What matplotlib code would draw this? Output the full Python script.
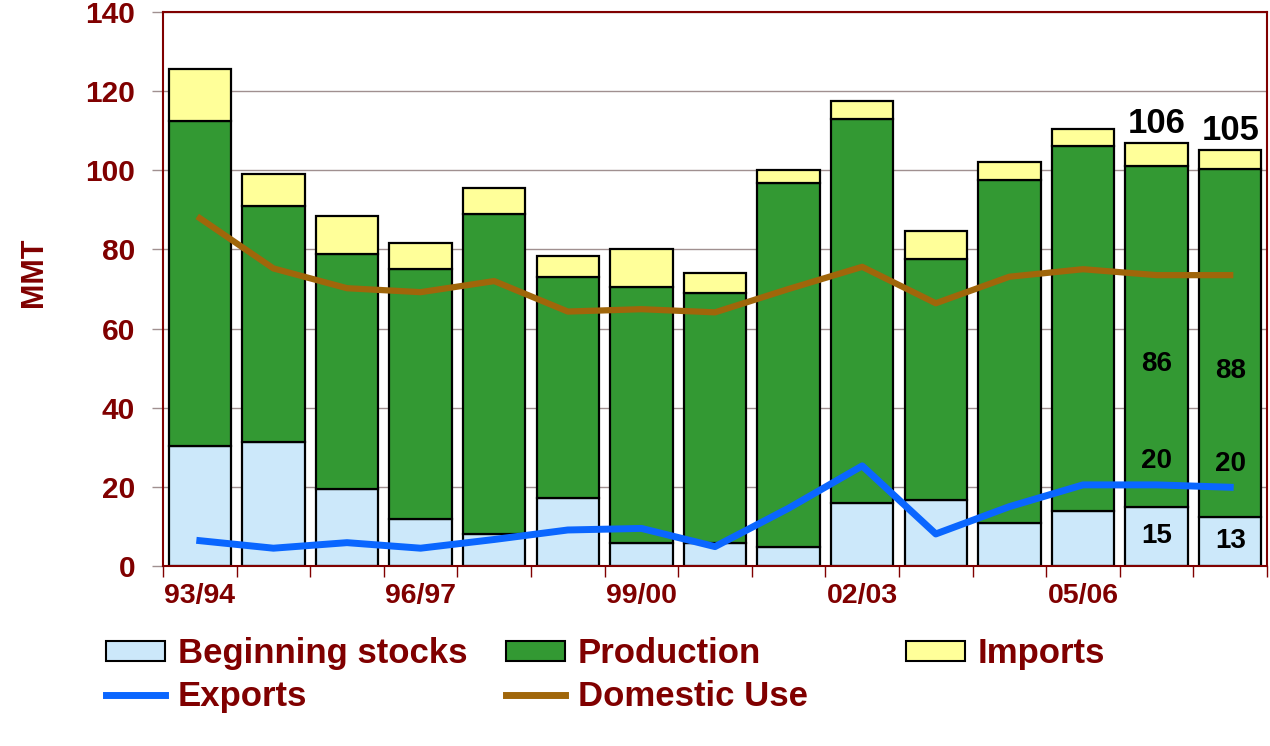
import numpy as np
import matplotlib.pyplot as plt
from matplotlib.patches import Patch
from matplotlib.lines import Line2D

plt.rcParams['font.family'] = ['Liberation Sans', 'DejaVu Sans']
plt.rcParams['font.weight'] = 'bold'

seasons = ['93/94', '94/95', '95/96', '96/97', '97/98', '98/99', '99/00', '00/01',
           '01/02', '02/03', '03/04', '04/05', '05/06', '06/07', '07/08']

# MMT
stocks = np.array([30.4, 31.4, 19.4, 11.9, 8.0, 17.1, 5.7, 5.7, 4.9, 16.0, 16.8, 10.9, 14.0, 15.0, 12.4])
production = np.array([82.1, 59.6, 59.5, 63.1, 81.0, 56.0, 64.9, 63.2, 92.0, 97.0, 60.7, 86.6, 92.1, 86.1, 87.9])
imports = np.array([13.0, 8.0, 9.6, 6.5, 6.4, 5.3, 9.4, 5.1, 3.1, 4.6, 7.1, 4.5, 4.4, 5.9, 4.8])
exports = np.array([6.4, 4.5, 5.9, 4.5, 6.7, 9.1, 9.5, 4.9, 14.6, 25.3, 8.1, 15.0, 20.5, 20.5, 19.9])
domestic = np.array([87.9, 75.2, 70.2, 69.2, 72.0, 64.3, 64.9, 64.1, 70.0, 75.6, 66.4, 73.1, 75.0, 73.5, 73.5])

# labels on the last two seasons
lab_idx = [13, 14]
total_labels = ['106', '105']
prod_labels = ['86', '88']
export_labels = ['20', '20']
stock_labels = ['15', '13']

dred = '#800000'
gridc = '#a09090'
c_stock = '#cce8fa'
c_prod = '#339933'
c_imp = '#ffff99'
c_exp = '#0a66ff'
c_dom = '#a0660a'

fig = plt.figure(figsize=(12.7, 7.46), dpi=100)
ax = fig.add_axes([163/1270, 1-566/746, 1104/1270, 554/746])

x = np.arange(len(seasons))
w = 0.85
ax.bar(x, stocks, width=w, color=c_stock, edgecolor='black', linewidth=1.6, zorder=2)
ax.bar(x, production, width=w, bottom=stocks, color=c_prod, edgecolor='black', linewidth=1.6, zorder=2)
ax.bar(x, imports, width=w, bottom=stocks + production, color=c_imp, edgecolor='black',
       linewidth=1.6, zorder=2)
ax.plot(x, exports, color=c_exp, lw=5, zorder=3, solid_joinstyle='round')
ax.plot(x, domestic, color=c_dom, lw=4.5, zorder=3, solid_joinstyle='round')

totals = stocks + production + imports
for k, i in enumerate(lab_idx):
    ax.annotate(total_labels[k], (i, totals[i]), xytext=(0, 2), textcoords='offset points',
                ha='center', va='bottom', fontsize=25, color='black')
    ax.text(i, stocks[i] + production[i] * 0.42, prod_labels[k], ha='center', va='center',
            fontsize=20, color='black', zorder=4)
    ax.text(i, exports[i] + 6, export_labels[k], ha='center', va='center',
            fontsize=20, color='black', zorder=4)
    ax.text(i, stocks[i] / 2, stock_labels[k], ha='center', va='center',
            fontsize=20, color='black', zorder=4)

ax.set_xlim(-0.5, len(seasons) - 0.5)
ax.set_ylim(0, 140)
ax.set_yticks(range(0, 141, 20))
ax.yaxis.grid(True, color=gridc, lw=1)
ax.set_axisbelow(True)

ax.set_xticks(x[::3])
ax.set_xticklabels(seasons[::3])
ax.set_xticks(np.arange(-0.5, len(seasons), 1), minor=True)
ax.tick_params(axis='x', which='major', length=0, pad=12, labelsize=20.5, labelcolor=dred)
ax.tick_params(axis='x', which='minor', length=8, width=1, color=dred, direction='out')
ax.tick_params(axis='y', length=8, width=1, color=gridc, pad=12, labelsize=21.5, labelcolor=dred)
for s in ax.spines.values():
    s.set_color(dred)
    s.set_linewidth(1.5)

fig.text(34/1270, 1-272/746, 'MMT', rotation=90, ha='center', va='center',
         fontsize=22, color=dred)

# legend in three columns spaced evenly
leg_cols = [
    [Patch(facecolor=c_stock, edgecolor='black', lw=1.5, label='Beginning stocks'),
     Line2D([], [], color=c_exp, lw=5, label='Exports')],
    [Patch(facecolor=c_prod, edgecolor='black', lw=1.5, label='Production'),
     Line2D([], [], color=c_dom, lw=5, label='Domestic Use')],
    [Patch(facecolor=c_imp, edgecolor='black', lw=1.5, label='Imports')],
]
for j, hs in enumerate(leg_cols):
    fig.legend(handles=hs, loc='upper left', bbox_to_anchor=((106 + 400*j)/1270, 1-637/746),
               frameon=False, fontsize=25, labelcolor=dred, borderpad=0, borderaxespad=0,
               handlelength=1.7, handleheight=0.52, handletextpad=0.37, labelspacing=0.3)

fig.savefig('out.png', dpi=100)
